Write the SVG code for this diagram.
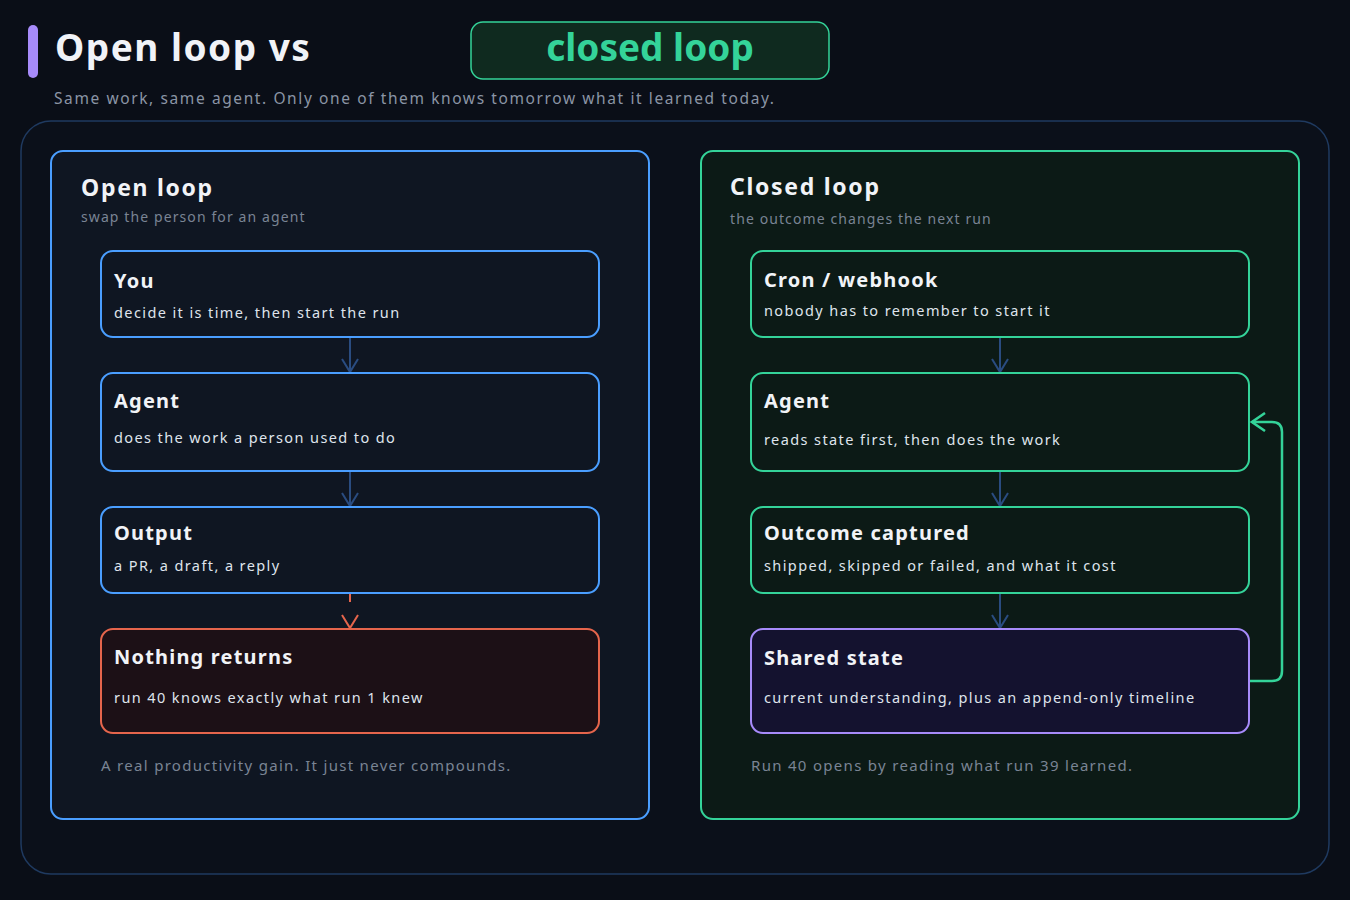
<svg xmlns="http://www.w3.org/2000/svg" width="1350" height="900" viewBox="0 0 1350 900">
<defs>
<style>
text{font-family:"Noto Sans","Liberation Sans",sans-serif}
.h1{font-size:37px;font-weight:700;fill:#f1f3f7}
.sub{font-size:15.5px;fill:#8b95a5;letter-spacing:1.6px}
.psub{font-size:14px;fill:#7a8494;letter-spacing:1.1px}
.foot{font-size:15px;fill:#7a8494;letter-spacing:1.3px}
.pt{font-size:23px;font-weight:700;fill:#f1f3f7;letter-spacing:1.7px}
.nt{font-size:20px;font-weight:700;fill:#f1f3f7;letter-spacing:1.2px}
.nd{font-size:14.5px;fill:#dfe4ec;letter-spacing:1.4px}
.blue{fill:#0f1622;stroke:#4a9eff;stroke-width:2}
.green{fill:#0c1a16;stroke:#34d399;stroke-width:2}
.conn{stroke:#2a4c80;stroke-width:2;fill:none}
</style>
<marker id="ab" markerWidth="18" markerHeight="18" refX="15" refY="9" orient="auto" markerUnits="userSpaceOnUse" viewBox="0 0 18 18"><path d="M2,1 L15,9 L2,17" fill="none" stroke="#2a4c80" stroke-width="2"/></marker>
<marker id="ar" markerWidth="18" markerHeight="18" refX="15" refY="9" orient="auto" markerUnits="userSpaceOnUse" viewBox="0 0 18 18"><path d="M2,1 L15,9 L2,17" fill="none" stroke="#e5654c" stroke-width="2"/></marker>
<marker id="ag" markerWidth="18" markerHeight="20" refX="16" refY="10" orient="auto" markerUnits="userSpaceOnUse" viewBox="0 0 18 20"><path d="M3,1 L16,10 L3,19" fill="none" stroke="#34d399" stroke-width="2.5"/></marker>
</defs>
<rect width="1350" height="900" fill="#0a0e17"/>
<g id="header">
<rect x="28" y="25" width="10" height="53" rx="5" fill="#a78bfa"/>
<text x="55" y="61" class="h1" style="letter-spacing:1.5px">Open loop vs</text>
<rect x="471" y="22" width="358" height="57" rx="12" fill="#0f2a1f" stroke="#34d399" stroke-width="1.5"/>
<text x="650" y="61" class="h1" style="fill:#34d399" text-anchor="middle">closed loop</text>
<text x="54" y="104" class="sub">Same work, same agent. Only one of them knows tomorrow what it learned today.</text>
</g>
<rect id="frame" x="21" y="121" width="1308" height="753" rx="30" fill="#0b101a" stroke="#1f3a60" stroke-width="1.5"/>
<g id="open-panel">
<rect x="51" y="151" width="598" height="668" rx="12" class="blue"/>
<text x="81" y="196" class="pt">Open loop</text>
<text x="81" y="222" class="psub">swap the person for an agent</text>
<text x="101" y="771" class="foot">A real productivity gain. It just never compounds.</text>
</g>
<g id="closed-panel">
<rect x="701" y="151" width="598" height="668" rx="12" class="green"/>
<text x="730" y="195" class="pt">Closed loop</text>
<text x="730" y="224" class="psub">the outcome changes the next run</text>
<text x="751" y="771" class="foot">Run 40 opens by reading what run 39 learned.</text>
</g>
<g id="connectors">
<line x1="350" y1="338" x2="350" y2="372" class="conn" marker-end="url(#ab)"/>
<line x1="350" y1="472" x2="350" y2="506" class="conn" marker-end="url(#ab)"/>
<line x1="350" y1="594" x2="350" y2="628" stroke="#e5654c" stroke-width="2" stroke-dasharray="8 100" marker-end="url(#ar)"/>
<line x1="1000" y1="338" x2="1000" y2="372" class="conn" marker-end="url(#ab)"/>
<line x1="1000" y1="472" x2="1000" y2="506" class="conn" marker-end="url(#ab)"/>
<line x1="1000" y1="594" x2="1000" y2="628" class="conn" marker-end="url(#ab)"/>
<path d="M1250,681 H1272 Q1282,681 1282,671 V432 Q1282,422 1272,422 H1252" fill="none" stroke="#34d399" stroke-width="2.5" marker-end="url(#ag)"/>
</g>
<g id="you">
<rect x="101" y="251" width="498" height="86" rx="12" class="blue"/>
<text x="114" y="288" class="nt">You</text>
<text x="114" y="318" class="nd">decide it is time, then start the run</text>
</g>
<g id="agent-open">
<rect x="101" y="373" width="498" height="98" rx="12" class="blue"/>
<text x="114" y="408" class="nt">Agent</text>
<text x="114" y="443" class="nd">does the work a person used to do</text>
</g>
<g id="output">
<rect x="101" y="507" width="498" height="86" rx="12" class="blue"/>
<text x="114" y="540" class="nt">Output</text>
<text x="114" y="571" class="nd">a PR, a draft, a reply</text>
</g>
<g id="nothing-returns">
<rect x="101" y="629" width="498" height="104" rx="12" fill="#1c1016" stroke="#e5654c" stroke-width="2"/>
<text x="114" y="664" class="nt">Nothing returns</text>
<text x="114" y="703" class="nd">run 40 knows exactly what run 1 knew</text>
</g>
<g id="cron">
<rect x="751" y="251" width="498" height="86" rx="12" class="green"/>
<text x="764" y="287" class="nt">Cron / webhook</text>
<text x="764" y="316" class="nd">nobody has to remember to start it</text>
</g>
<g id="agent-closed">
<rect x="751" y="373" width="498" height="98" rx="12" class="green"/>
<text x="764" y="408" class="nt">Agent</text>
<text x="764" y="445" class="nd">reads state first, then does the work</text>
</g>
<g id="outcome">
<rect x="751" y="507" width="498" height="86" rx="12" class="green"/>
<text x="764" y="540" class="nt">Outcome captured</text>
<text x="764" y="571" class="nd">shipped, skipped or failed, and what it cost</text>
</g>
<g id="shared-state">
<rect x="751" y="629" width="498" height="104" rx="12" fill="#14122f" stroke="#a78bfa" stroke-width="2"/>
<text x="764" y="665" class="nt">Shared state</text>
<text x="764" y="703" class="nd">current understanding, plus an append-only timeline</text>
</g>
</svg>
